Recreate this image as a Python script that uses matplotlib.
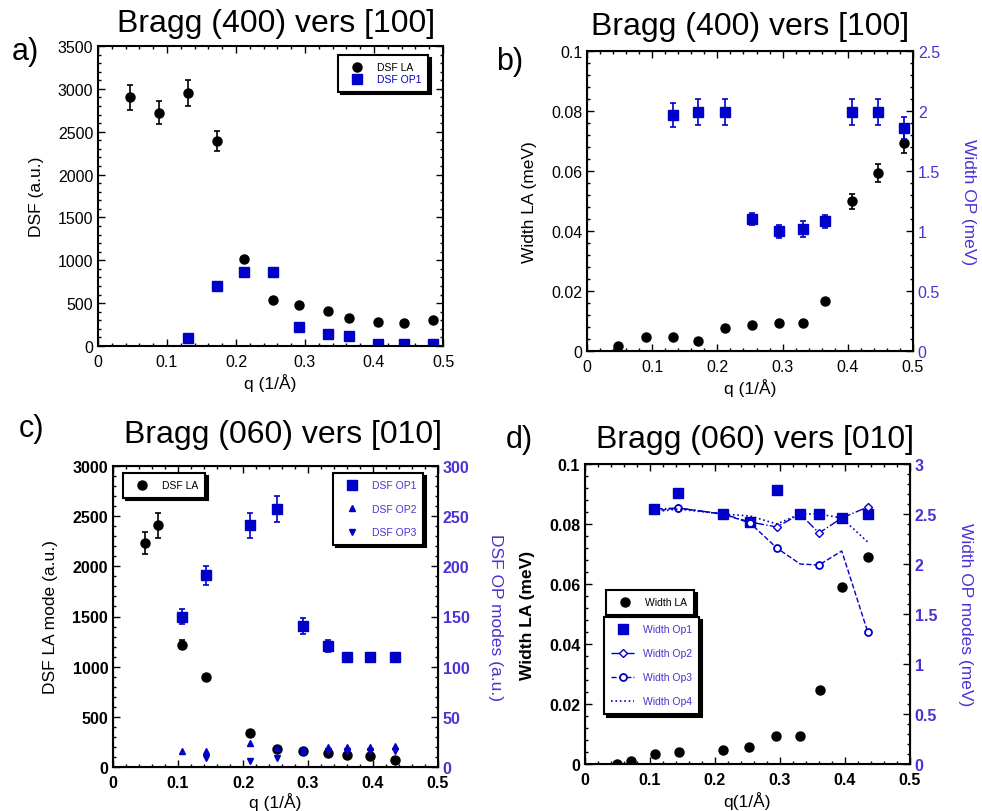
import numpy as np
import matplotlib
matplotlib.use("Agg")
import matplotlib.pyplot as plt
from matplotlib.ticker import MultipleLocator, FuncFormatter

plt.rcParams['font.family'] = ['Liberation Sans', 'DejaVu Sans']

BLUE = '#0000c8'
PURPLE = '#4b32d2'

# panel a: Bragg (400) vers [100], DSF
qa_la = [0.047, 0.089, 0.131, 0.172, 0.211, 0.253, 0.292, 0.333, 0.364, 0.406, 0.444, 0.486]
dsf_la_a = [2900, 2720, 2950, 2390, 1015, 533, 475, 408, 323, 284, 264, 303]
dsf_la_a_err = [150, 135, 155, 115, 0, 0, 0, 0, 0, 0, 0, 0]
qa_op = [0.131, 0.172, 0.211, 0.253, 0.292, 0.333, 0.364, 0.406, 0.444, 0.486]
dsf_op_a = [97, 700, 867, 867, 222, 144, 117, 19, 19, 19]

# panel b: Bragg (400) vers [100], widths
qb = [0.047, 0.090, 0.132, 0.171, 0.212, 0.253, 0.294, 0.332, 0.365, 0.406, 0.447, 0.486]
width_la_b = [0.0017, 0.0047, 0.0047, 0.0034, 0.0077, 0.0088, 0.0094, 0.0094, 0.0166, 0.0499, 0.0594, 0.0694]
width_la_b_err = [0, 0, 0, 0, 0, 0, 0, 0, 0, 0.0026, 0.003, 0.0035]
qb_op = [0.132, 0.171, 0.212, 0.253, 0.294, 0.332, 0.365, 0.406, 0.447, 0.486]
width_op_b = [1.965, 1.993, 1.993, 1.10, 0.998, 1.017, 1.081, 1.99, 1.99, 1.86]
width_op_b_err = [0.10, 0.107, 0.107, 0.05, 0.054, 0.065, 0.055, 0.107, 0.107, 0.09]

# panel c: Bragg (060) vers [010], DSF
qc_la = [0.049, 0.069, 0.106, 0.143, 0.211, 0.252, 0.293, 0.330, 0.360, 0.395, 0.434]
dsf_la_c = [2235, 2411, 1220, 895, 339, 176, 160, 140, 123, 106, 66]
dsf_la_c_err = [110, 125, 45, 0, 0, 0, 0, 0, 0, 0, 0]
qc_op = [0.106, 0.143, 0.211, 0.252, 0.293, 0.330, 0.360, 0.395, 0.434]
dsf_op1_c = [150, 191, 241, 257, 141, 121, 110, 110, 110]
dsf_op1_c_err = [7.5, 9.5, 12.5, 13, 8, 6, 4, 4, 4]
dsf_op2_c = [16, 16, 24, 19, 16, 20, 20, 20, 21]
dsf_op3_c = [np.nan, 9, 6, 9, 16, 16, 16, 16, 16]

# panel d: Bragg (060) vers [010], widths
qd_la = [0.049, 0.070, 0.107, 0.144, 0.212, 0.253, 0.294, 0.331, 0.361, 0.396, 0.435]
width_la_d = [0.0, 0.0011, 0.0034, 0.0040, 0.0046, 0.0058, 0.0094, 0.0094, 0.0248, 0.0589, 0.0689]
qd_op = [0.106, 0.143, 0.212, 0.254, 0.295, 0.331, 0.360, 0.395, 0.435]
width_op1_d = [2.55, 2.71, 2.50, 2.42, 2.74, 2.50, 2.50, 2.46, 2.50]
width_op2_d = [2.55, 2.56, 2.50, 2.42, 2.37, 2.50, 2.31, 2.46, 2.57]
width_op3_d = [2.53, 2.56, 2.50, 2.41, 2.16, 2.00, 1.99, 2.13, 1.32]
width_op4_d = [2.52, 2.55, 2.50, 2.48, 2.40, 2.50, 2.50, 2.46, 2.22]

W, H = 982, 812
fig = plt.figure(figsize=(W / 100, H / 100), dpi=100)
fmt = FuncFormatter(lambda v, p: '%g' % round(v, 6))


def px_axes(x0, x1, y0, y1):
    return fig.add_axes([x0 / W, 1 - y1 / H, (x1 - x0) / W, (y1 - y0) / H])


def style(ax, right=True, bold=False):
    ax.xaxis.set_major_formatter(fmt)
    ax.yaxis.set_major_formatter(fmt)
    ax.tick_params(which='both', direction='in', top=True, right=right, labelsize=11.5)
    ax.tick_params(axis='x', pad=6)
    ax.tick_params(which='major', length=5, width=1)
    ax.tick_params(which='minor', length=2.5, width=1)
    for s in ax.spines.values():
        s.set_linewidth(1.5)
    if bold:
        for t in ax.get_xticklabels() + ax.get_yticklabels():
            t.set_fontweight('bold')


def style_right(ax2, bold=False):
    ax2.yaxis.set_major_formatter(fmt)
    ax2.tick_params(which='both', direction='in', right=True, labelsize=11.5, labelcolor=PURPLE)
    ax2.tick_params(which='major', length=5, width=1)
    ax2.tick_params(which='minor', length=2.5, width=1)
    if bold:
        for t in ax2.get_yticklabels():
            t.set_fontweight('bold')


def legend(ax, handles, labels, colors, bbox, spacing=1.2):
    leg = ax.legend(handles, labels, loc='upper left', bbox_to_anchor=bbox, fontsize=7.5,
                    frameon=True, fancybox=False, edgecolor='black', framealpha=1,
                    shadow={'color': 'black', 'alpha': 1.0}, borderaxespad=0,
                    handlelength=2.2, handletextpad=0.8, labelspacing=spacing, borderpad=0.7)
    leg.get_frame().set_linewidth(1.5)
    for t, c in zip(leg.get_texts(), colors):
        t.set_color(c)
    return leg


def ebar(ax, x, y, err, color='black'):
    x = np.array(x); y = np.array(y); err = np.array(err)
    m = err > 0
    ax.errorbar(x[m], y[m], yerr=err[m], fmt='none', ecolor=color,
                elinewidth=1.2, capsize=2.5, capthick=1.2)


# ---- a)
ax = px_axes(98, 443, 47, 347)
h1, = ax.plot(qa_la, dsf_la_a, 'o', color='black', ms=6.5)
ebar(ax, qa_la, dsf_la_a, dsf_la_a_err)
h2, = ax.plot(qa_op, dsf_op_a, 's', color=BLUE, ms=6.5)
ax.set_xlim(0, 0.5)
ax.set_ylim(0, 3500)
ax.xaxis.set_major_locator(MultipleLocator(0.1))
ax.xaxis.set_minor_locator(MultipleLocator(0.02))
ax.yaxis.set_major_locator(MultipleLocator(500))
ax.yaxis.set_minor_locator(MultipleLocator(100))
ax.set_xlabel('q (1/Å)', fontsize=12.5, labelpad=3)
ax.set_ylabel('DSF (a.u.)', fontsize=12.5, labelpad=10)
style(ax)
legend(ax, [h1, h2], ['DSF LA', 'DSF OP1'], ['black', BLUE], ((338 - 98) / 345, (347 - 56) / 300),
       spacing=0.2)

# ---- b)
ax = px_axes(587, 913, 52, 352)
ax.plot(qb, width_la_b, 'o', color='black', ms=6.5)
ebar(ax, qb, width_la_b, width_la_b_err)
ax.set_xlim(0, 0.5)
ax.set_ylim(0, 0.1)
ax.xaxis.set_major_locator(MultipleLocator(0.1))
ax.xaxis.set_minor_locator(MultipleLocator(0.02))
ax.yaxis.set_major_locator(MultipleLocator(0.02))
ax.yaxis.set_minor_locator(MultipleLocator(0.004))
ax.set_xlabel('q (1/Å)', fontsize=12.5, labelpad=3)
ax.set_ylabel('Width LA (meV)', fontsize=12.5, labelpad=10)
style(ax, right=False)
ax2 = ax.twinx()
ax2.plot(qb_op, width_op_b, 's', color=BLUE, ms=6.5)
ebar(ax2, qb_op, width_op_b, width_op_b_err, color=BLUE)
ax2.set_ylim(0, 2.5)
ax2.yaxis.set_major_locator(MultipleLocator(0.5))
ax2.yaxis.set_minor_locator(MultipleLocator(0.1))
ax2.set_ylabel('Width OP (meV)', fontsize=12.5, color=PURPLE, rotation=270, labelpad=26)
style_right(ax2)

# ---- c)
ax = px_axes(113, 438, 467, 768)
h1, = ax.plot(qc_la, dsf_la_c, 'o', color='black', ms=6.5, zorder=3)
ebar(ax, qc_la, dsf_la_c, dsf_la_c_err)
ax.set_xlim(0, 0.5)
ax.set_ylim(0, 3000)
ax.xaxis.set_major_locator(MultipleLocator(0.1))
ax.xaxis.set_minor_locator(MultipleLocator(0.02))
ax.yaxis.set_major_locator(MultipleLocator(500))
ax.yaxis.set_minor_locator(MultipleLocator(100))
ax.set_xlabel('q (1/Å)', fontsize=12.5, labelpad=1)
ax.set_ylabel('DSF LA mode (a.u.)', fontsize=12.5, labelpad=10)
style(ax, right=False, bold=True)
legend(ax, [h1], ['DSF LA'], ['black'], ((123 - 113) / 325, (768 - 474) / 301))
ax2 = ax.twinx()
g1, = ax2.plot(qc_op, dsf_op1_c, 's', color=BLUE, ms=6.5)
ebar(ax2, qc_op, dsf_op1_c, dsf_op1_c_err, color=BLUE)
g2, = ax2.plot(qc_op, dsf_op2_c, '^', color=BLUE, ms=5)
g3, = ax2.plot(qc_op, dsf_op3_c, 'v', color=BLUE, ms=5)
ax2.set_ylim(0, 300)
ax2.yaxis.set_major_locator(MultipleLocator(50))
ax2.yaxis.set_minor_locator(MultipleLocator(10))
ax2.set_ylabel('DSF OP modes (a.u.)', fontsize=12.5, color=PURPLE, rotation=270, labelpad=24)
style_right(ax2, bold=True)
legend(ax2, [g1, g2, g3], ['DSF OP1', 'DSF OP2', 'DSF OP3'], [PURPLE] * 3,
       ((333 - 113) / 325, (768 - 474) / 301), spacing=1.3)

# ---- d)
ax = px_axes(585, 910, 465, 765)
h1, = ax.plot(qd_la, width_la_d, 'o', color='black', ms=6.5, zorder=3)
ax.set_xlim(0, 0.5)
ax.set_ylim(0, 0.1)
ax.xaxis.set_major_locator(MultipleLocator(0.1))
ax.xaxis.set_minor_locator(MultipleLocator(0.02))
ax.yaxis.set_major_locator(MultipleLocator(0.02))
ax.yaxis.set_minor_locator(MultipleLocator(0.004))
ax.set_xlabel('q(1/Å)', fontsize=12.5, labelpad=3)
ax.set_ylabel('Width LA (meV)', fontsize=12.5, fontweight='bold', labelpad=10)
style(ax, right=False, bold=True)
ax2 = ax.twinx()
k1, = ax2.plot(qd_op, width_op1_d, 's', color=BLUE, ms=6.5)
k2, = ax2.plot(qd_op, width_op2_d, '-.', color=BLUE, lw=1, marker='D', ms=4,
               mfc='white', mec=BLUE, markevery=[1, 4, 6, 8])
k3, = ax2.plot(qd_op, width_op3_d, '--', color=BLUE, lw=1, marker='o', ms=5,
               mfc='white', mec=BLUE, mew=1.3, markevery=[1, 3, 4, 6, 8])
k4, = ax2.plot(qd_op, width_op4_d, ':', color=BLUE, lw=1.2)
ax2.set_ylim(0, 3)
ax2.yaxis.set_major_locator(MultipleLocator(0.5))
ax2.yaxis.set_minor_locator(MultipleLocator(0.1))
ax2.set_ylabel('Width OP modes (meV)', fontsize=12.5, color=PURPLE, rotation=270, labelpad=26)
style_right(ax2, bold=True)
legend(ax2, [h1], ['Width LA'], ['black'], ((606 - 585) / 325, (765 - 591) / 300))
legend(ax, [k1, k2, k3, k4], ['Width Op1', 'Width Op2', 'Width Op3', 'Width Op4'], [PURPLE] * 4,
       ((604 - 585) / 325, (765 - 618) / 300), spacing=1.35)

# titles and panel letters
for x, y, s in [(276, 24, 'Bragg (400) vers [100]'), (750, 27, 'Bragg (400) vers [100]'),
                (283, 435, 'Bragg (060) vers [010]'), (755, 440, 'Bragg (060) vers [010]')]:
    fig.text(x / W, 1 - y / H, s, fontsize=23, ha='center', va='center')
for x, y, s in [(25, 52, 'a)'), (510, 62, 'b)'), (31, 429, 'c)'), (519, 440, 'd)')]:
    fig.text(x / W, 1 - y / H, s, fontsize=22, ha='center', va='center')

fig.savefig('out.png', dpi=100)
